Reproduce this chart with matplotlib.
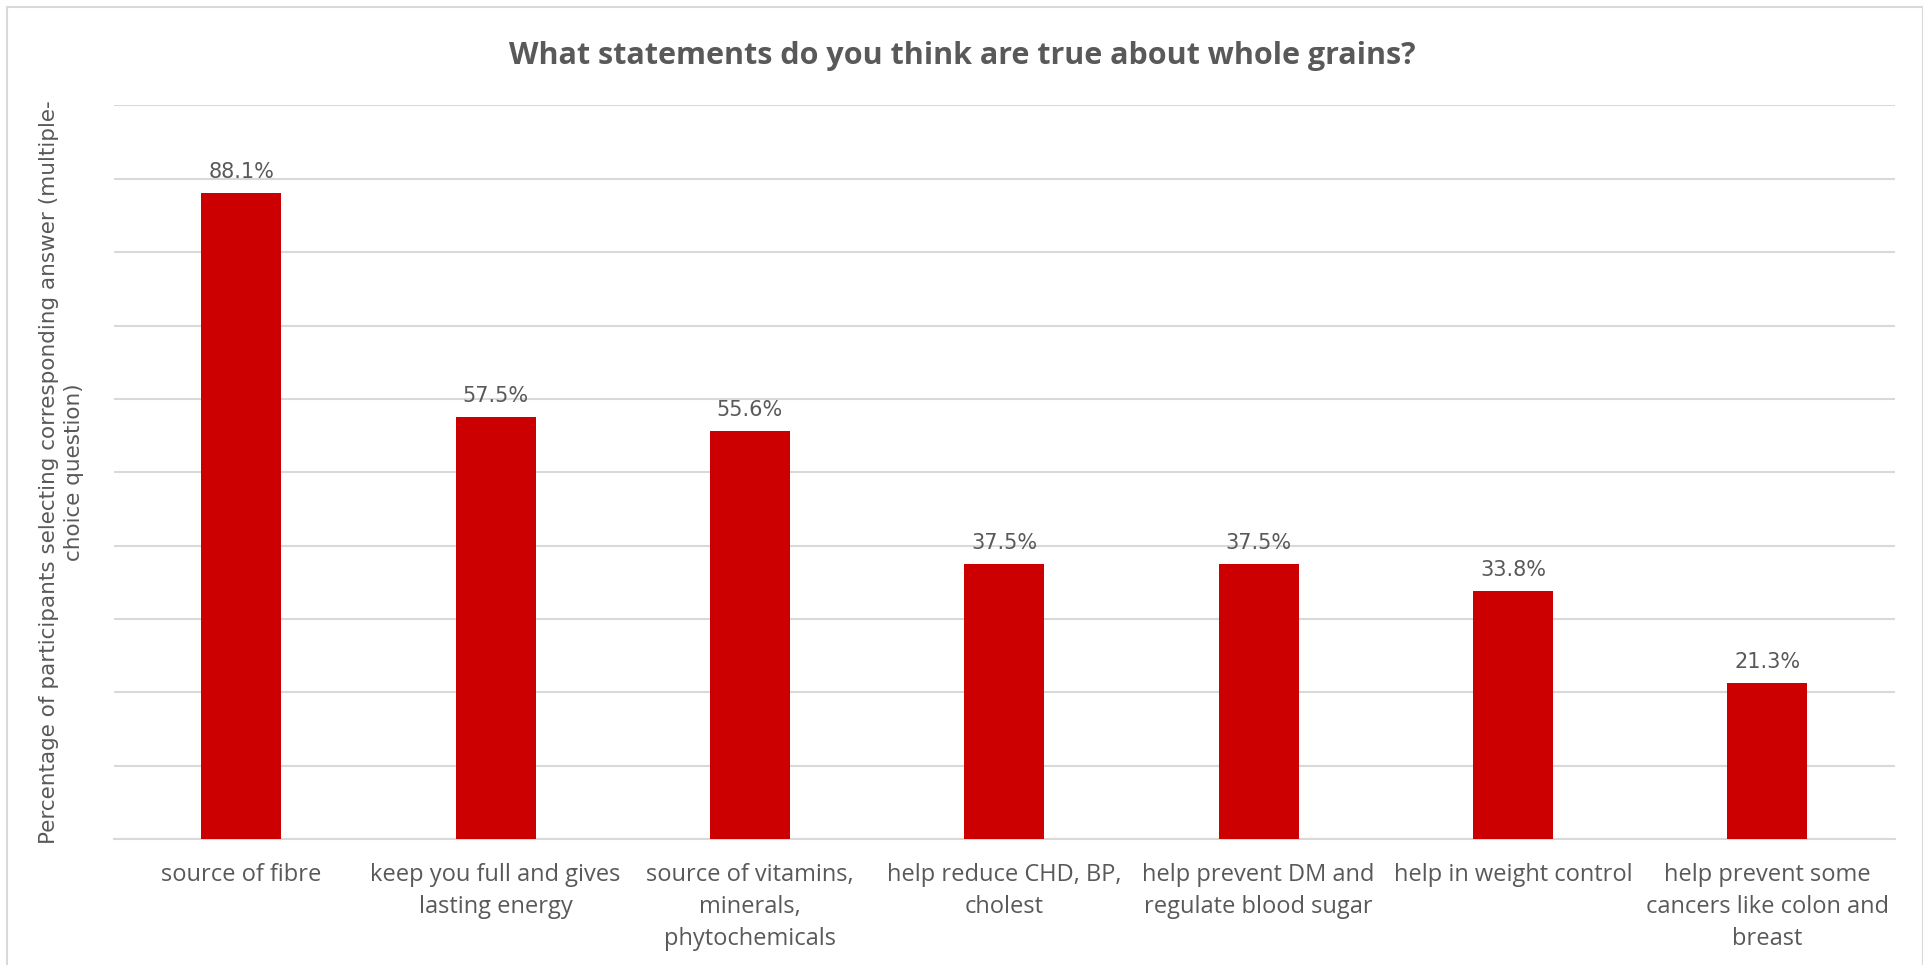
import matplotlib.pyplot as plt
import matplotlib.patches as mpatches
from matplotlib import font_manager

# data
categories = [
    "source of fibre",
    "keep you full and gives\nlasting energy",
    "source of vitamins,\nminerals,\nphytochemicals",
    "help reduce CHD, BP,\ncholest",
    "help prevent DM and\nregulate blood sugar",
    "help in weight control",
    "help prevent some\ncancers like colon and\nbreast",
]
values = [88.1, 57.5, 55.6, 37.5, 37.5, 33.8, 21.3]

TITLE = "What statements do you think are true about whole grains?"
YLABEL = "Percentage of participants selecting corresponding answer (multiple-\nchoice question)"

names = {f.name for f in font_manager.fontManager.ttflist}
narrow = "Liberation Sans Narrow" if "Liberation Sans Narrow" in names else "Open Sans"

GREY = "#595959"
BAR = "#CC0000"
GRID = "#D9D9D9"

fig = plt.figure(figsize=(19.24, 9.65), dpi=100)
ax = fig.add_axes([0.0593, 0.1306, 0.9254, 0.7601])

x = range(len(categories))
ax.bar(x, values, width=0.315, color=BAR, zorder=3)

for xi, v in zip(x, values):
    ax.annotate(f"{v:.1f}%", (xi, v), xytext=(0, 11), textcoords="offset pixels",
                ha="center", va="bottom", fontsize=15, color=GREY)

ax.set_xlim(-0.5, len(categories) - 0.5)
ax.set_ylim(0, 100)
ax.set_yticks(range(0, 101, 10))
ax.set_yticklabels([])
ax.yaxis.grid(True, color=GRID, linewidth=1.5, zorder=0)
ax.tick_params(axis="y", length=0)
ax.tick_params(axis="x", length=0, pad=17)

ax.set_xticks(list(x))
ax.set_xticklabels(categories, fontsize=17, color=GREY, family=narrow, linespacing=1.45)

for s in ["top", "right", "left"]:
    ax.spines[s].set_visible(False)
ax.spines["bottom"].set_color(GRID)
ax.spines["bottom"].set_linewidth(1.5)

ax.set_ylabel(YLABEL, fontsize=15.5, color=GREY, labelpad=18, linespacing=1.35)

fig.text(0.5, 0.942, TITLE, ha="center", va="center", fontsize=22,
         fontweight="bold", color=GREY, family=narrow)

# chart area border
fig.patches.append(mpatches.Rectangle((7 / 1924, -0.05), 1916 / 1924, 1.05 - 7 / 965,
                                      transform=fig.transFigure, fill=False,
                                      edgecolor=GRID, linewidth=1.5))

plt.savefig("out.png", dpi=100)
